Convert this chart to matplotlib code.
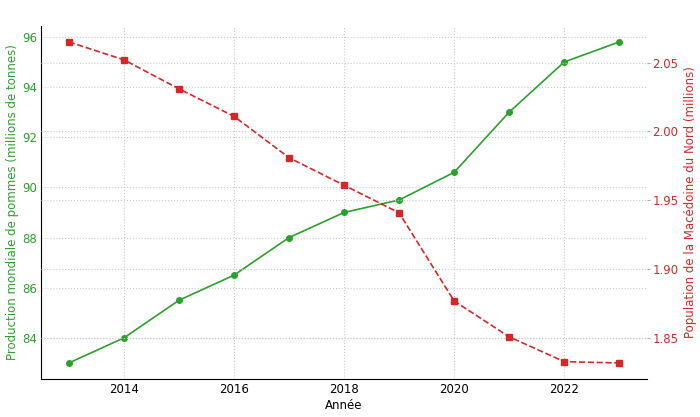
import matplotlib.pyplot as plt

years = [2013, 2014, 2015, 2016, 2017, 2018, 2019, 2020, 2021, 2022, 2023]
apple_production = [83.0, 84.0, 85.5, 86.5, 88.0, 89.0, 89.5, 90.6, 93.0, 95.0, 95.8]
population = [2.065, 2.052, 2.031, 2.011, 1.981, 1.961, 1.941, 1.877, 1.851, 1.833, 1.832]

green = "#2ca02c"
red = "#d62728"
grid_style = dict(color="#cccccc", linestyle=":", linewidth=0.8)
fs = 8.5

fig, ax1 = plt.subplots(figsize=(7, 4.17), dpi=100)
fig.subplots_adjust(left=0.059, right=0.924, top=0.938, bottom=0.091)

ax1.plot(years, apple_production, color=green, marker="o", markersize=4,
         linewidth=1.2)
ax1.set_xlabel("Année", fontsize=fs, labelpad=2)
ax1.set_ylabel("Production mondiale de pommes (millions de tonnes)",
               color=green, fontsize=fs, labelpad=2)
ax1.tick_params(axis="y", colors=green, labelsize=fs, length=0, pad=3)
ax1.tick_params(axis="x", labelsize=fs, length=0, pad=3)
ax1.set_yticks([84, 86, 88, 90, 92, 94, 96])
ax1.set_xticks([2014, 2016, 2018, 2020, 2022])
ax1.grid(True, **grid_style)
for side in ["top", "right"]:
    ax1.spines[side].set_visible(False)

ax2 = ax1.twinx()
ax2.plot(years, population, color=red, marker="s", markersize=4,
         linewidth=1.2, linestyle="--")
ax2.set_ylabel("Population de la Macédoine du Nord (millions)",
               color=red, fontsize=fs, labelpad=4)
ax2.tick_params(axis="y", labelcolor=red, color="#aaaaaa", labelsize=fs,
                length=2, pad=2)
ax2.set_yticks([1.85, 1.90, 1.95, 2.00, 2.05])
ax2.grid(True, axis="y", **grid_style)
for side in ["top", "right", "left", "bottom"]:
    ax2.spines[side].set_visible(False)

plt.savefig("out.png", dpi=100)
